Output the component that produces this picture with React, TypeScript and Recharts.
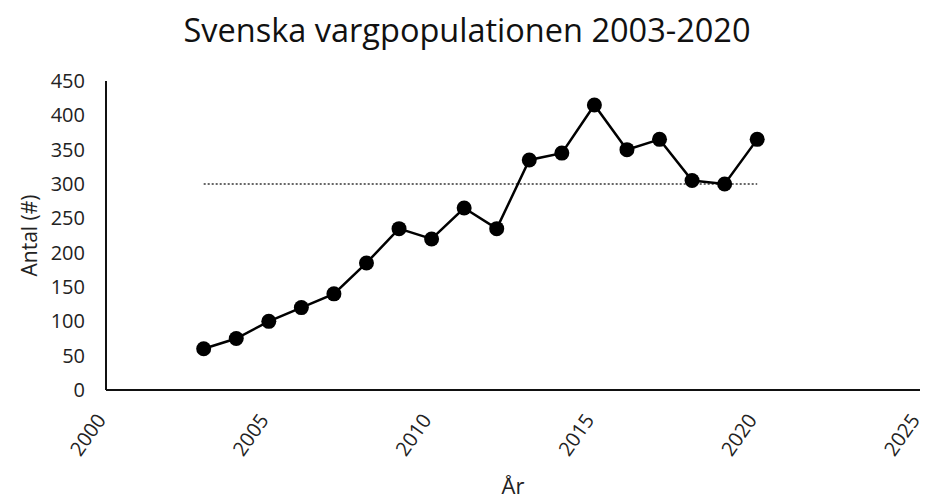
import React from "react";
import { Label, Line, LineChart, ReferenceLine, XAxis, YAxis } from "recharts";

const years = [2003, 2004, 2005, 2006, 2007, 2008, 2009, 2010, 2011, 2012, 2013, 2014, 2015, 2016, 2017, 2018, 2019, 2020];
const antal = [60, 75, 100, 120, 140, 185, 235, 220, 265, 235, 335, 345, 415, 350, 365, 305, 300, 365];
const xTicks = [2000, 2005, 2010, 2015, 2020, 2025];
const yTicks = [0, 50, 100, 150, 200, 250, 300, 350, 400, 450];
const referensniva = 300;

const FONT = "'Open Sans', sans-serif";

const chartData = years.map((year, i) => ({ year, antal: antal[i] }));

// rotated year labels, ends just under the tick
const XTick = ({ x, y, payload }: any) => {
  const ax = x - 5;
  const ay = y + 26;
  return (
    <text
      x={ax}
      y={ay}
      dy="0.35em"
      transform={`rotate(-55 ${ax} ${ay})`}
      textAnchor="end"
      fontFamily={FONT}
      fontSize={20}
      fill="#222"
    >
      {payload.value}
    </text>
  );
};

export default function App() {
  return (
    <div style={{ position: "relative", width: 927, height: 501, background: "#fff" }}>
      <style>{`body{margin:0}`}</style>
      <svg width={927} height={60} style={{ position: "absolute", left: 0, top: 0 }}>
        <text x={467} y={42} textAnchor="middle" fontFamily={FONT} fontSize={32.5} fill="#111">
          Svenska vargpopulationen 2003-2020
        </text>
      </svg>
      <LineChart
        width={927}
        height={501}
        data={chartData}
        margin={{ top: 81, right: 7, left: 0, bottom: 0 }}
      >
        <XAxis
          dataKey="year"
          type="number"
          domain={[2000, 2025]}
          ticks={xTicks}
          height={111}
          tickLine={false}
          tickSize={0}
          tickMargin={0}
          axisLine={{ stroke: "#111", strokeWidth: 2 }}
          tick={<XTick />}
          interval={0}
        >
          <Label
            content={({ viewBox }: any) => (
              <text
                x={viewBox.x + viewBox.width / 2}
                y={viewBox.y + 104}
                textAnchor="middle"
                fontFamily={FONT}
                fontSize={22}
                fill="#222"
              >
                År
              </text>
            )}
          />
        </XAxis>
        <YAxis
          type="number"
          domain={[0, 450]}
          ticks={yTicks}
          width={106}
          tickLine={false}
          tickSize={0}
          tickMargin={21}
          axisLine={{ stroke: "#111", strokeWidth: 2 }}
          tick={{ fill: "#222", fontSize: 20, fontFamily: FONT }}
          interval={0}
        >
          <Label
            content={({ viewBox }: any) => {
              const cx = viewBox.x + 30;
              const cy = viewBox.y + viewBox.height / 2;
              return (
                <text
                  x={cx}
                  y={cy}
                  dy="0.35em"
                  transform={`rotate(-90 ${cx} ${cy})`}
                  textAnchor="middle"
                  fontFamily={FONT}
                  fontSize={21}
                  fill="#222"
                >
                  Antal (#)
                </text>
              );
            }}
          />
        </YAxis>
        <ReferenceLine
          segment={[
            { x: years[0], y: referensniva },
            { x: years[years.length - 1], y: referensniva },
          ]}
          stroke="#666"
          strokeWidth={2}
          strokeDasharray="2 2"
          ifOverflow="visible"
        />
        <Line
          type="linear"
          dataKey="antal"
          stroke="#000"
          strokeWidth={2.5}
          dot={{ r: 7.5, fill: "#000", stroke: "#000", strokeWidth: 0 }}
          activeDot={false}
          isAnimationActive={false}
        />
      </LineChart>
    </div>
  );
}
